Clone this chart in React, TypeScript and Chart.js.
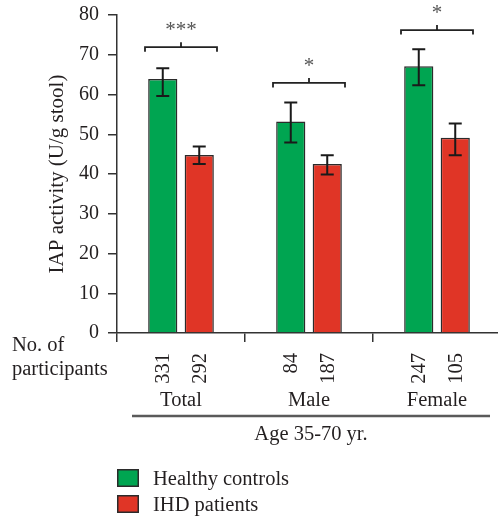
import React, { useEffect, useRef } from "react";
import { Chart, registerables } from "chart.js";

Chart.register(...registerables);

const categories = ["Total", "Male", "Female"];
const seriesNames = ["Healthy controls", "IHD patients"];
const healthyMeans = [63.9, 53.2, 67.1];
const healthyLow = [59.6, 47.9, 62.3];
const healthyHigh = [66.6, 58.0, 71.4];
const ihdMeans = [44.8, 42.5, 49.1];
const ihdLow = [42.5, 39.9, 44.7];
const ihdHigh = [46.9, 44.7, 52.7];
const healthyCounts = ["331", "84", "247"];
const ihdCounts = ["292", "187", "105"];
const sigLabels = ["***", "*", "*"];
const sigLevels = [71.9, 62.9, 76.2];
const yAxisTitle = "IAP activity (U/g stool)";
const countTitle = ["No. of", "participants"];
const groupTitle = "Age 35-70 yr.";

const FONT = "'Liberation Serif', 'Times New Roman', serif";
const TEXT = "#231f20";
const GREEN = "#00a551";
const RED = "#e03526";
const EDGE = "#2b2b2b";
const FS = 20.5;

const overlay = {
  id: "overlay",
  afterDatasetsDraw(chart: any) {
    const ctx = chart.ctx;
    const y = chart.scales.y;
    const lows = [healthyLow, ihdLow];
    const highs = [healthyHigh, ihdHigh];
    ctx.save();
    ctx.strokeStyle = "#1a1a1a";
    ctx.lineWidth = 2;
    for (let d = 0; d < 2; d++) {
      const meta = chart.getDatasetMeta(d);
      meta.data.forEach((bar: any, i: number) => {
        const x = bar.x;
        const yl = y.getPixelForValue(lows[d][i]);
        const yh = y.getPixelForValue(highs[d][i]);
        ctx.beginPath();
        ctx.moveTo(x, yl);
        ctx.lineTo(x, yh);
        ctx.moveTo(x - 6.5, yh);
        ctx.lineTo(x + 6.5, yh);
        ctx.moveTo(x - 6.5, yl);
        ctx.lineTo(x + 6.5, yl);
        ctx.stroke();
      });
    }
    ctx.restore();
  },
  afterDraw(chart: any) {
    const ctx = chart.ctx;
    const xs = chart.scales.x;
    const ys = chart.scales.y;
    const area = chart.chartArea;
    ctx.save();

    // significance brackets
    categories.forEach((_, i) => {
      const cx = xs.getPixelForValue(i);
      const by = ys.getPixelForValue(sigLevels[i]);
      const l = cx - 36;
      const r = cx + 36;
      ctx.strokeStyle = "#222";
      ctx.lineWidth = 1.8;
      ctx.beginPath();
      ctx.moveTo(l, by + 4.5);
      ctx.lineTo(l, by);
      ctx.lineTo(r, by);
      ctx.lineTo(r, by + 4.5);
      ctx.moveTo(cx, by);
      ctx.lineTo(cx, by - 5);
      ctx.stroke();
      ctx.fillStyle = "#555";
      ctx.font = `21px ${FONT}`;
      ctx.textAlign = "center";
      ctx.textBaseline = "alphabetic";
      ctx.fillText(sigLabels[i], cx, by - 11);
    });

    ctx.fillStyle = TEXT;

    // y axis title
    ctx.save();
    ctx.translate(57, (area.top + area.bottom) / 2);
    ctx.rotate(-Math.PI / 2);
    ctx.font = `21px ${FONT}`;
    ctx.textAlign = "center";
    ctx.textBaseline = "middle";
    ctx.fillText(yAxisTitle, 0, 0);
    ctx.restore();

    // No. of participants
    ctx.font = `${FS}px ${FONT}`;
    ctx.textAlign = "left";
    ctx.textBaseline = "alphabetic";
    ctx.fillText(countTitle[0], 12, 351);
    ctx.fillText(countTitle[1], 12, 375);

    // counts (rotated)
    const counts = [healthyCounts, ihdCounts];
    for (let d = 0; d < 2; d++) {
      const meta = chart.getDatasetMeta(d);
      meta.data.forEach((bar: any, i: number) => {
        ctx.save();
        ctx.translate(bar.x + 1, area.bottom + 20);
        ctx.rotate(-Math.PI / 2);
        ctx.textAlign = "right";
        ctx.textBaseline = "middle";
        ctx.fillText(counts[d][i], 0, 0);
        ctx.restore();
      });
    }

    // category labels
    ctx.textAlign = "center";
    ctx.textBaseline = "alphabetic";
    categories.forEach((c, i) => {
      ctx.fillText(c, xs.getPixelForValue(i), 406);
    });

    // group line
    const lx1 = area.left + 15;
    const lx2 = 490;
    ctx.strokeStyle = "#5a5a5a";
    ctx.lineWidth = 2.5;
    ctx.beginPath();
    ctx.moveTo(lx1, 416);
    ctx.lineTo(lx2, 416);
    ctx.stroke();
    ctx.fillText(groupTitle, (lx1 + lx2) / 2, 440);

    // legend
    const colors = [GREEN, RED];
    seriesNames.forEach((name, i) => {
      const by = 469 + i * 26;
      ctx.fillStyle = colors[i];
      ctx.fillRect(area.left, by, 22, 18);
      ctx.strokeStyle = EDGE;
      ctx.lineWidth = 1.5;
      ctx.strokeRect(area.left + 0.75, by + 0.75, 20.5, 16.5);
      ctx.fillStyle = TEXT;
      ctx.textAlign = "left";
      ctx.textBaseline = "alphabetic";
      ctx.fillText(name, 153, by + 16);
    });

    ctx.restore();
  },
};

export default function App() {
  const ref = useRef<HTMLCanvasElement | null>(null);
  useEffect(() => {
    if (!ref.current) return;
    const chart = new Chart(ref.current, {
      type: "bar",
      data: {
        labels: categories,
        datasets: [
          {
            label: seriesNames[0],
            data: healthyMeans,
            backgroundColor: GREEN,
            borderColor: EDGE,
            borderWidth: 1.5,
            categoryPercentage: 0.57,
            barPercentage: 0.8,
          },
          {
            label: seriesNames[1],
            data: ihdMeans,
            backgroundColor: RED,
            borderColor: EDGE,
            borderWidth: 1.5,
            categoryPercentage: 0.57,
            barPercentage: 0.8,
          },
        ],
      },
      options: {
        responsive: false,
        animation: false,
        layout: { padding: { top: 15, right: 3, left: 0, bottom: 0 } },
        plugins: { legend: { display: false }, tooltip: { enabled: false }, title: { display: false } },
        scales: {
          x: {
            offset: true,
            grid: { drawOnChartArea: false, drawTicks: true, tickLength: 9, color: "#333", lineWidth: 1.5, offset: true },
            border: { display: true, color: "#333", width: 1.5 },
            ticks: { display: false },
            afterFit(scale: any) {
              scale.height = 520 - 333;
              scale.paddingLeft = 0;
              scale.paddingRight = 0;
            },
          },
          y: {
            min: 0,
            max: 80,
            grid: { drawOnChartArea: false, drawTicks: true, tickLength: 9, color: "#333", lineWidth: 1.5 },
            border: { display: true, color: "#333", width: 1.5 },
            ticks: { stepSize: 10, padding: 9, color: TEXT, font: { family: FONT, size: 20 } },
            afterFit(scale: any) {
              scale.width = 117;
              scale.paddingTop = 0;
              scale.paddingBottom = 0;
            },
          },
        },
      },
      plugins: [overlay],
    });
    return () => chart.destroy();
  }, []);
  return (
    <div style={{ position: "absolute", left: 0, top: 0, width: 498, height: 520, overflow: "hidden", background: "#fff" }}>
      <canvas ref={ref} width={504} height={520} style={{ width: 504, height: 520, display: "block" }} />
    </div>
  );
}
